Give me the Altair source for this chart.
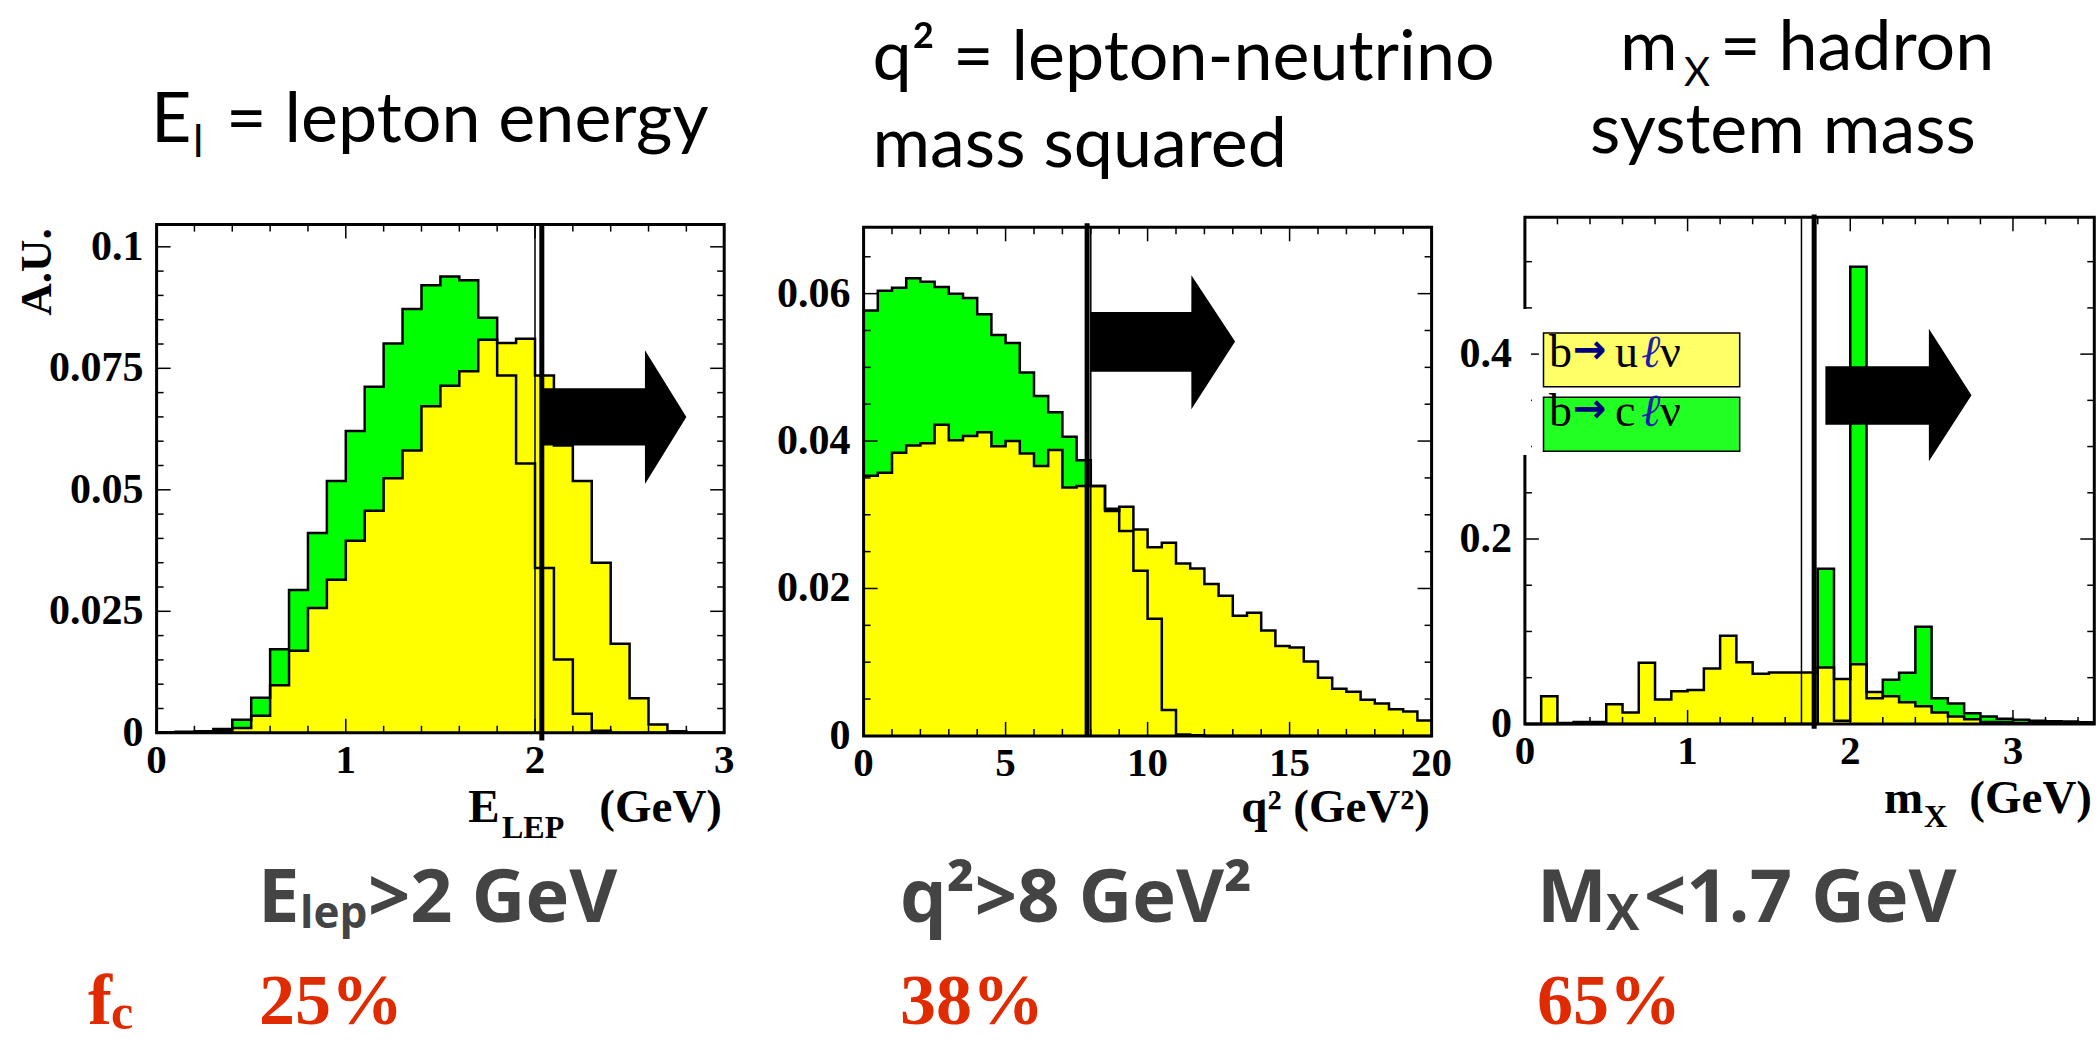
import altair as alt
import pandas as pd

# ---------------- data ----------------
# E_lep histogram: 30 bins of 0.1 GeV from 0 to 3
elep_bin = 0.1
elep_green = [0.0001, 0.0002, 0.0003, 0.0008, 0.0027, 0.0072, 0.0172, 0.0294, 0.0411, 0.0518,
              0.0621, 0.0712, 0.0801, 0.0872, 0.0921, 0.0939, 0.0931, 0.0854, 0.0735, 0.0554,
              0.0339, 0.0151, 0.0039, 0.0004, 0.0, 0.0, 0.0, 0.0, 0.0, 0.0]
elep_yellow = [0.0, 0.0, 0.0001, 0.0004, 0.0010, 0.0035, 0.0098, 0.0169, 0.0257, 0.0315,
               0.0395, 0.0457, 0.0524, 0.0581, 0.0672, 0.0714, 0.0744, 0.0809, 0.0802, 0.0811,
               0.0735, 0.0591, 0.0518, 0.0350, 0.0183, 0.0071, 0.0017, 0.0003, 0.0, 0.0]

# q^2 histogram: 40 bins of 0.5 GeV^2 from 0 to 20
q2_bin = 0.5
q2_green = [0.0577, 0.0604, 0.0608, 0.0621, 0.0616, 0.0609, 0.0600, 0.0594, 0.0572, 0.0544,
            0.0533, 0.0493, 0.0461, 0.0439, 0.0406, 0.0374, 0.0339, 0.0308, 0.0278, 0.0224,
            0.0159, 0.0035, 0.0002, 0.0001, 0.0, 0.0, 0.0, 0.0, 0.0, 0.0,
            0.0, 0.0, 0.0, 0.0, 0.0, 0.0, 0.0, 0.0, 0.0, 0.0]
q2_yellow = [0.0353, 0.0357, 0.0384, 0.0394, 0.0397, 0.0422, 0.0401, 0.0407, 0.0412, 0.0393,
             0.0400, 0.0383, 0.0366, 0.0388, 0.0337, 0.0339, 0.0339, 0.0305, 0.0311, 0.0280,
             0.0256, 0.0262, 0.0234, 0.0227, 0.0206, 0.0190, 0.0163, 0.0167, 0.0143, 0.0122,
             0.0120, 0.0101, 0.0079, 0.0064, 0.0060, 0.0049, 0.0044, 0.0036, 0.0033, 0.0021]

# m_X histogram: 35 bins of 0.1 GeV from 0 to 3.5
mx_bin = 0.1
mx_green = [0.0, 0.0, 0.0, 0.0, 0.0, 0.0, 0.0, 0.0, 0.0, 0.0,
            0.0, 0.0, 0.0, 0.0, 0.0, 0.0, 0.0, 0.0, 0.1678, 0.0035,
            0.4945, 0.0278, 0.0477, 0.0552, 0.1051, 0.0278, 0.0220, 0.0115, 0.0080, 0.0057,
            0.0044, 0.0035, 0.0030, 0.0027, 0.0018]
mx_yellow = [0.0, 0.0300, 0.0010, 0.0020, 0.0020, 0.0212, 0.0124, 0.0662, 0.0265, 0.0353,
             0.0366, 0.0600, 0.0954, 0.0667, 0.0543, 0.0556, 0.0556, 0.0556, 0.0609, 0.0486,
             0.0645, 0.0344, 0.0300, 0.0234, 0.0190, 0.0124, 0.0080, 0.0050, 0.0020, 0.0020,
             0.0010, 0.0010, 0.0010, 0.0010, 0.0010]

# cuts: nominal cut value (thin line) and drawn cut marker (thick line)
cut_thin = [2.0, 8.0, 1.7]
cut_thick = [2.036, 7.87, 1.778]

# arrows (data units of each panel): start, head start, tip, shaft lo/hi, head lo/hi, tip y
arrow_x = [[2.036, 2.581, 2.80], [7.99, 11.54, 13.08], [1.847, 2.483, 2.745]]
arrow_shaft = [[0.0591, 0.0709], [0.0494, 0.0575], [0.3236, 0.3868]]
arrow_head = [[0.0512, 0.0787], [0.0443, 0.0625], [0.284, 0.4274]]
arrow_tip = [0.065, 0.0535, 0.3554]

# axis ranges and tick labels
x_domains = [[0, 3], [0, 20], [0, 3.5]]
y_domains = [[0, 0.10457], [0, 0.069], [0, 0.548]]
x_tick_labels = [[0, 1, 2, 3], [0, 5, 10, 15, 20], [0, 1, 2, 3]]
y_tick_values = [[0, 0.025, 0.05, 0.075, 0.1], [0, 0.02, 0.04, 0.06], [0, 0.2, 0.4]]
y_tick_text = [["0", "0.025", "0.05", "0.075", "0.1"], ["0", "0.02", "0.04", "0.06"], ["0", "0.2", "0.4"]]
x_minor_step = [0.2, 1, 0.2]
y_minor_step = [0.005, 0.005, 0.05]

# texts
fractions = ["25%", "38%", "65%"]
legend_labels = [["b", "→", "u", "ℓ", "ν"], ["b", "→", "c", "ℓ", "ν"]]

# ---------------- layout / style ----------------
GREEN = "#00ff00"
YELLOW = "#ffff00"
SANS = "Lato"
BOLDSANS = "Open Sans"
SERIF = "Liberation Serif"
GRAY = "#444444"
RED = "#e02a00"

PANELS = [
    dict(xr=[156.6, 724.2], yr=[732.8, 224.6], thick=[224.6, 740.5]),
    dict(xr=[863.6, 1431.6], yr=[735.9, 227.3], thick=[223.3, 736.7]),
    dict(xr=[1524.9, 2094.3], yr=[723.9, 217.3], thick=[214.5, 728.8]),
]
MAJ, MIN = 14, 7


def step_df(values, width):
    xs = [round(i * width, 6) for i in range(len(values) + 1)]
    vs = list(values) + [values[-1]]
    return pd.DataFrame({"x": xs, "v": vs})


def frange(a, b, s):
    out, i = [], 0
    while a + i * s <= b + 1e-9:
        out.append(round(a + i * s, 6))
        i += 1
    return out


def text(txt, x, y, size, font, color="black", weight="normal", style="normal",
         align="left", baseline="alphabetic", angle=0):
    return alt.Chart(pd.DataFrame({"t": [txt]})).mark_text(
        font=font, fontSize=size, fontWeight=weight, fontStyle=style, color=color,
        align=align, baseline=baseline, angle=angle
    ).encode(x=alt.value(x), y=alt.value(y), text="t:N")


def panel(i, green, yellow, width):
    p = PANELS[i]
    sx = alt.Scale(domain=x_domains[i], range=p["xr"], nice=False, zero=False)
    sy = alt.Scale(domain=y_domains[i], range=p["yr"], nice=False, zero=False)
    left, right = p["xr"]
    bottom, top = p["yr"]
    X = alt.X("x:Q", scale=sx, axis=None)
    Y = alt.Y("v:Q", scale=sy, axis=None)
    gdf, ydf = step_df(green, width), step_df(yellow, width)
    layers = [
        alt.Chart(gdf).mark_area(interpolate="step-after", color=GREEN, opacity=1).encode(X, Y),
        alt.Chart(ydf).mark_area(interpolate="step-after", color=YELLOW, opacity=1).encode(X, Y),
        alt.Chart(gdf).mark_line(interpolate="step-after", color="black", strokeWidth=2.5).encode(X, Y),
        alt.Chart(ydf).mark_line(interpolate="step-after", color="black", strokeWidth=2.5).encode(X, Y),
    ]
    # frame
    fr = pd.DataFrame({"x0": [x_domains[i][0]], "x1": [x_domains[i][1]],
                       "y0": [y_domains[i][0]], "y1": [y_domains[i][1]]})
    layers.append(alt.Chart(fr).mark_rect(fillOpacity=0, stroke="black", strokeWidth=3).encode(
        x=alt.X("x0:Q", scale=sx, axis=None), x2="x1",
        y=alt.Y("y0:Q", scale=sy, axis=None), y2="y1"))
    # ticks (inward, on all four sides)
    xt = frange(x_domains[i][0], x_domains[i][1], x_minor_step[i])
    yt = frange(y_domains[i][0], y_domains[i][1], y_minor_step[i])
    xmaj = [t for t in xt if any(abs(t - m) < 1e-6 for m in x_tick_labels[i])]
    xmin = [t for t in xt if t not in xmaj]
    ymaj = [t for t in yt if any(abs(t - m) < 1e-6 for m in y_tick_values[i])]
    ymin = [t for t in yt if t not in ymaj]
    for vals, L in ((xmaj, MAJ), (xmin, MIN)):
        d = pd.DataFrame({"t": vals})
        layers.append(alt.Chart(d).mark_rule(color="black", strokeWidth=1.5).encode(
            x=alt.X("t:Q", scale=sx, axis=None), y=alt.value(bottom), y2=alt.value(bottom - L)))
        layers.append(alt.Chart(d).mark_rule(color="black", strokeWidth=1.5).encode(
            x=alt.X("t:Q", scale=sx, axis=None), y=alt.value(top), y2=alt.value(top + L)))
    for vals, L in ((ymaj, MAJ), (ymin, MIN)):
        d = pd.DataFrame({"t": vals})
        layers.append(alt.Chart(d).mark_rule(color="black", strokeWidth=1.5).encode(
            y=alt.Y("t:Q", scale=sy, axis=None), x=alt.value(left), x2=alt.value(left + L)))
        layers.append(alt.Chart(d).mark_rule(color="black", strokeWidth=1.5).encode(
            y=alt.Y("t:Q", scale=sy, axis=None), x=alt.value(right), x2=alt.value(right - L)))
    # cut lines
    layers.append(alt.Chart(pd.DataFrame({"c": [cut_thin[i]]})).mark_rule(
        color="black", strokeWidth=1.5).encode(
        x=alt.X("c:Q", scale=sx, axis=None), y=alt.value(top), y2=alt.value(bottom)))
    layers.append(alt.Chart(pd.DataFrame({"c": [cut_thick[i]]})).mark_rule(
        color="black", strokeWidth=5).encode(
        x=alt.X("c:Q", scale=sx, axis=None), y=alt.value(p["thick"][0]), y2=alt.value(p["thick"][1])))
    # arrow
    ax0, ahx, atip = arrow_x[i]
    adf = pd.DataFrame({
        "x": [ax0, ahx, ahx + 1e-4 * (x_domains[i][1]), atip],
        "lo": [arrow_shaft[i][0], arrow_shaft[i][0], arrow_head[i][0], arrow_tip[i]],
        "hi": [arrow_shaft[i][1], arrow_shaft[i][1], arrow_head[i][1], arrow_tip[i]],
    })
    layers.append(alt.Chart(adf).mark_area(color="black", opacity=1, interpolate="linear").encode(
        x=alt.X("x:Q", scale=sx, axis=None),
        y=alt.Y("lo:Q", scale=sy, axis=None), y2="hi"))
    # tick labels
    xl = pd.DataFrame({"t": x_tick_labels[i], "lab": [str(v) for v in x_tick_labels[i]]})
    layers.append(alt.Chart(xl).mark_text(font=SERIF, fontWeight="bold", fontSize=41,
                                          baseline="top", align="center").encode(
        x=alt.X("t:Q", scale=sx, axis=None), y=alt.value(bottom + 8), text="lab:N"))
    yl = pd.DataFrame({"t": y_tick_values[i], "lab": y_tick_text[i]})
    layers.append(alt.Chart(yl).mark_text(font=SERIF, fontWeight="bold", fontSize=42,
                                          baseline="middle", align="right").encode(
        y=alt.Y("t:Q", scale=sy, axis=None), x=alt.value(left - 13), text="lab:N"))
    return alt.layer(*layers)


p1 = panel(0, elep_green, elep_yellow, elep_bin)
p2 = panel(1, q2_green, q2_yellow, q2_bin)
p3 = panel(2, mx_green, mx_yellow, mx_bin)

extra = []
# white patch over the left frame of panel 3 (legend backdrop)
extra.append(alt.Chart(pd.DataFrame({"a": [0]})).mark_rect(color="white").encode(
    x=alt.value(1516), x2=alt.value(1531), y=alt.value(309), y2=alt.value(455)))
# legend boxes
extra.append(alt.Chart(pd.DataFrame({"a": [0]})).mark_rect(
    color="#ffff66", stroke="black", strokeWidth=1.5).encode(
    x=alt.value(1543.5), x2=alt.value(1739.7), y=alt.value(332.9), y2=alt.value(386.7)))
extra.append(alt.Chart(pd.DataFrame({"a": [0]})).mark_rect(
    color="#22ff22", stroke="black", strokeWidth=1.5).encode(
    x=alt.value(1543.5), x2=alt.value(1739.7), y=alt.value(397.3), y2=alt.value(451.2)))
glyph_x = [1549.0, 1573.0, 1615.0, 1641.0, 1660.0]
glyph_col = ["black", "#000080", "black", "#1c1cb0", "black"]
glyph_sty = ["normal", "normal", "normal", "italic", "normal"]
glyph_font = [SERIF, "DejaVu Sans", SERIF, SERIF, SERIF]
glyph_wt = ["normal", "bold", "normal", "normal", "normal"]
glyph_size = [46, 40, 46, 46, 46]
for row, base in zip(legend_labels, [367, 426]):
    for g, gx, gc, gs, gf, gw, gz in zip(row, glyph_x, glyph_col, glyph_sty, glyph_font,
                                         glyph_wt, glyph_size):
        extra.append(text(g, gx, base if gf == SERIF else base - 4, gz, gf, color=gc,
                          style=gs, weight=gw))

# axis titles
extra.append(text("A.U.", 37, 272, 45, SERIF, weight="bold", align="center",
                  baseline="middle", angle=270))
extra.append(text("E", 468.3, 822, 47, SERIF, weight="bold"))
extra.append(text("LEP", 502, 838, 32, SERIF, weight="bold"))
extra.append(text("(GeV)", 722, 822, 47, SERIF, weight="bold", align="right"))
extra.append(text("q² (GeV²)", 1430, 822, 47, SERIF, weight="bold", align="right"))
extra.append(text("m", 1884, 813, 47, SERIF, weight="bold"))
extra.append(text("X", 1924, 827, 32, SERIF, weight="bold"))
extra.append(text("(GeV)", 2092, 813, 47, SERIF, weight="bold", align="right"))

# panel headings
extra.append(text("E", 151, 142, 70, SANS))
extra.append(text("l", 193, 157, 44, SANS))
extra.append(text("= lepton energy", 226, 142, 70, SANS))
extra.append(text("q² = lepton-neutrino", 872.5, 80, 70, SANS))
extra.append(text("mass squared", 872.5, 166.7, 70, SANS))
extra.append(text("m", 1620, 70, 70, SANS))
extra.append(text("X", 1684, 86, 40, SANS))
extra.append(text("= hadron", 1720, 70, 70, SANS))
extra.append(text("system mass", 1590, 153.3, 70, SANS))

# cut descriptions
extra.append(text("E", 258, 921.7, 74, BOLDSANS, color=GRAY, weight="bold"))
extra.append(text("lep", 300, 928.3, 44, BOLDSANS, color=GRAY, weight="bold"))
extra.append(text(">2 GeV", 368, 921.7, 74, BOLDSANS, color=GRAY, weight="bold"))
extra.append(text("q²>8 GeV²", 900, 921.7, 74, BOLDSANS, color=GRAY, weight="bold"))
extra.append(text("M", 1537, 921.7, 74, BOLDSANS, color=GRAY, weight="bold"))
extra.append(text("X", 1606, 930, 50, BOLDSANS, color=GRAY, weight="bold"))
extra.append(text("<1.7 GeV", 1644, 921.7, 74, BOLDSANS, color=GRAY, weight="bold"))

# charm fractions
extra.append(text("f", 88, 1024, 72, SERIF, color=RED, weight="bold"))
extra.append(text("c", 111, 1029, 50, SERIF, color=RED, weight="bold"))
for fx, ft in zip([259, 900, 1537], fractions):
    extra.append(text(ft, fx, 1024, 72, SERIF, color=RED, weight="bold"))

chart = alt.layer(p1, p2, p3, *extra).resolve_scale(
    x="independent", y="independent"
).properties(
    width=2099, height=1043, autosize=alt.AutoSizeParams(type="none"), padding=0,
    background="white"
).configure_view(stroke=None)

chart.save("out.html", embed_options={"renderer": "svg", "actions": False})
